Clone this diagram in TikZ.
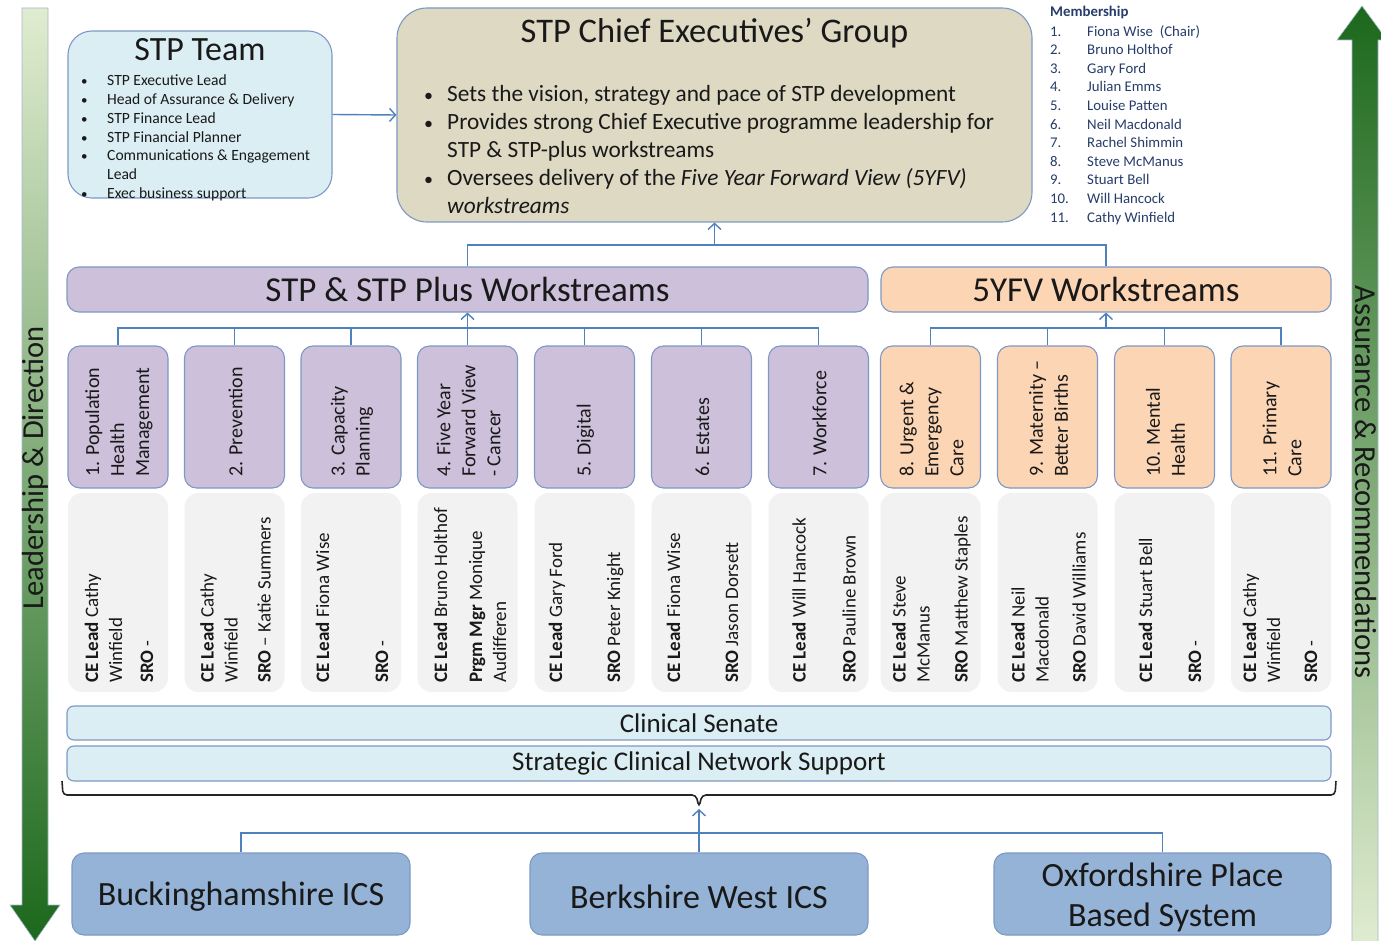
\documentclass[tikz,border=0pt]{standalone}
\usepackage{fontspec}
\setmainfont{Carlito}
\usetikzlibrary{arrows.meta,calc}
\definecolor{bordc}{RGB}{126,152,196}
\definecolor{connc}{RGB}{79,129,189}
\definecolor{teamc}{RGB}{219,238,244}
\definecolor{cegc}{RGB}{221,217,195}
\definecolor{purc}{RGB}{204,192,218}
\definecolor{orac}{RGB}{252,213,180}
\definecolor{grayc}{RGB}{242,242,242}
\definecolor{botc}{RGB}{149,179,215}
\definecolor{txtc}{RGB}{25,25,25}
\definecolor{memc}{RGB}{38,60,105}
\definecolor{gltop}{RGB}{224,236,208}
\definecolor{gldark}{RGB}{28,104,28}
\definecolor{arrbord}{RGB}{165,185,205}
\newcommand{\fs}[2]{\fontsize{#1}{#2}\selectfont}
\begin{document}
\begin{tikzpicture}[x=1pt,y=-1pt,
  basebox/.style={draw=bordc, line width=1.1pt, inner sep=0pt, text=txtc},
  teambox/.style={basebox, fill=teamc, rounded corners=24pt},
  cegbox/.style={basebox, fill=cegc, rounded corners=30pt},
  pbox/.style={basebox, fill=purc, rounded corners=12pt},
  obox/.style={basebox, fill=orac, rounded corners=12pt},
  nbox/.style={fill=grayc, draw=none, rounded corners=14pt, inner sep=0pt},
  lbox/.style={basebox, fill=teamc, rounded corners=7pt},
  bbox/.style={basebox, fill=botc, rounded corners=12pt},
  conn/.style={draw=connc, line width=1.4pt},
  arr/.style={-{Straight Barb[length=6pt,width=13pt,line width=1.4pt]}},
  wstext/.style={rotate=90, anchor=west, align=left, inner sep=0pt, font=\fs{20}{25}, text=txtc},
  nmtext/.style={rotate=90, anchor=west, align=left, inner sep=0pt, font=\fs{19}{24}, text=txtc},
  txt/.style={anchor=base west, inner sep=0pt, text=txtc},
  memtxt/.style={anchor=base west, inner sep=0pt, text=memc, font=\fs{14.8}{18}},
  bigtxt/.style={inner sep=0pt, text=txtc, font=\fs{34}{40}, align=center},
]
\path[use as bounding box] (0,0) rectangle (1381,941);
\clip (0,0) rectangle (1381,941);

% side arrows
\shade[top color=gltop, bottom color=gldark, draw=arrbord, line width=0.6pt]
  (22,8) -- (48,8) -- (48,905) -- (60,905) -- (35,941) -- (10,905) -- (22,905) -- cycle;
\shade[top color=gldark, bottom color=gltop, draw=arrbord, line width=0.6pt]
  (1352,945) -- (1352,40) -- (1337,40) -- (1362,6) -- (1387,40) -- (1378,40) -- (1378,945) -- cycle;
\node[rotate=90, font=\fs{30.5}{36}, text=txtc, inner sep=0pt] (ld) at (35,468) {Leadership \& Direction};
\node[rotate=-90, font=\fs{30.5}{36}, text=txtc, inner sep=0pt] (ar) at (1366,482) {Assurance \& Recommendations};

% STP Team
\node[teambox, minimum width=264pt, minimum height=167pt] (team) at (200,114.5) {};
\node[anchor=base, inner sep=0pt, font=\fs{34}{40}, text=txtc] (teamt) at (200,61) {STP Team};
\foreach \k/\b/\t in {0/1/STP Executive Lead, 1/1/Head of Assurance \& Delivery, 2/1/STP Finance Lead,
  3/1/STP Financial Planner, 4/1/Communications \& Engagement, 5/0/Lead, 6/1/Exec business support}{
  \ifnum\b=1 \node[txt, font=\fs{13}{18}] (tb\k) at (81,{86+18.7*\k}) {•};\fi
  \node[txt, font=\fs{15.6}{18}] (tl\k) at (107,{86+18.7*\k}) {\t};
}

% Chief Executives group
\node[cegbox, minimum width=635pt, minimum height=214pt] (ceg) at (714.5,115) {};
\node[anchor=base, inner sep=0pt, font=\fs{34.5}{40}, text=txtc] (cegt) at (714.5,43) {STP Chief Executives’ Group};
\foreach \k/\b/\t in {0/1/{Sets the vision, strategy and pace of STP development},
  1/1/{Provides strong Chief Executive programme leadership for},
  2/0/{STP \& STP-plus workstreams},
  3/1/{Oversees delivery of the \textit{Five Year Forward View (5YFV)}},
  4/0/{\textit{workstreams}}}{
  \ifnum\b=1 \node[txt, font=\fs{18}{28}] (cb\k) at (424,{102+28*\k}) {•};\fi
  \node[txt, font=\fs{23.3}{28}] (cl\k) at (447,{102+28*\k}) {\t};
}

% Membership
\node[memtxt, font=\bfseries\fs{14.8}{18}] (memt) at (1050,17) {Membership};
\foreach \nm [count=\i] in {Fiona Wise\ \ (Chair), Bruno Holthof, Gary Ford, Julian Emms, Louise Patten,
  Neil Macdonald, Rachel Shimmin, Steve McManus, Stuart Bell, Will Hancock, Cathy Winfield}{
  \node[memtxt] (mn\i) at (1050,{17.5+18.6*\i}) {\i.};
  \node[memtxt] (mm\i) at (1087,{17.5+18.6*\i}) {\nm};
}

% workstream headers
\node[pbox, minimum width=801pt, minimum height=45pt, font=\fs{35}{40}] (stpplus) at (467.5,289.5) {STP \& STP Plus Workstreams};
\node[obox, minimum width=450pt, minimum height=45pt, font=\fs{35}{40}] (fyfv) at (1106,289.5) {5YFV Workstreams};

% workstream boxes
\foreach \i/\x in {1/118,2/234.5,3/351,4/467.5,5/584.5,6/701.5,7/818.5}{
  \node[pbox, minimum width=100pt, minimum height=142pt] (ws\i) at (\x,417) {};
  \node[nbox, minimum width=100pt, minimum height=199pt] (nb\i) at (\x,592.5) {};
}
\foreach \i/\x in {8/930.5,9/1047.5,10/1164.5,11/1281}{
  \node[obox, minimum width=100pt, minimum height=142pt] (ws\i) at (\x,417) {};
  \node[nbox, minimum width=100pt, minimum height=199pt] (nb\i) at (\x,592.5) {};
}
\node[wstext] (wt1) at (119,477) {1. Population\\Health\\Management};
\node[wstext] (wt2) at (235.5,477) {2. Prevention};
\node[wstext] (wt3) at (352,477) {3. Capacity\\Planning};
\node[wstext] (wt4) at (468.5,477) {4. Five Year\\Forward View\\- Cancer};
\node[wstext] (wt5) at (585.5,477) {5. Digital};
\node[wstext] (wt6) at (702.5,477) {6. Estates};
\node[wstext] (wt7) at (819.5,477) {7. Workforce};
\node[wstext] (wt8) at (931.5,477) {8. Urgent \&\\Emergency\\Care};
\node[wstext] (wt9) at (1048.5,477) {9. Maternity –\\Better Births};
\node[wstext] (wt10) at (1165.5,477) {10. Mental\\Health};
\node[wstext] (wt11) at (1282,477) {11. Primary\\Care};

\node[nmtext] (nt1) at (119,683) {\textbf{CE Lead} Cathy\\Winfield\\[7pt]\textbf{SRO} -};
\node[nmtext] (nt2) at (235.5,683) {\textbf{CE Lead} Cathy\\Winfield\\[9pt]\textbf{SRO} – Katie Summers};
\node[nmtext] (nt3) at (352,683) {\textbf{CE Lead} Fiona Wise\\[35pt]\textbf{SRO} -};
\node[nmtext] (nt4) at (470,683) {\textbf{CE Lead} Bruno Holthof\\[11pt]\textbf{Prgm Mgr} Monique\\Audifferen};
\node[nmtext] (nt5) at (586,683) {\textbf{CE Lead} Gary Ford\\[34pt]\textbf{SRO} Peter Knight};
\node[nmtext] (nt6) at (702.5,683) {\textbf{CE Lead} Fiona Wise\\[34pt]\textbf{SRO} Jason Dorsett};
\node[nmtext] (nt7) at (824,683) {\textbf{CE Lead} Will Hancock\\[26pt]\textbf{SRO} Pauline Brown};
\node[nmtext] (nt8) at (931.5,683) {\textbf{CE Lead} Steve\\McManus\\[14pt]\textbf{SRO} Matthew Staples};
\node[nmtext] (nt9) at (1048.5,683) {\textbf{CE Lead} Neil\\Macdonald\\[13pt]\textbf{SRO} David Williams};
\node[nmtext] (nt10) at (1170,683) {\textbf{CE Lead} Stuart Bell\\[25pt]\textbf{SRO} -};
\node[nmtext] (nt11) at (1280,683) {\textbf{CE Lead} Cathy\\Winfield\\[13pt]\textbf{SRO} -};

% clinical bars
\node[lbox, minimum width=1264pt, minimum height=34pt, font=\fs{27}{30}] (senate) at (699,723) {Clinical Senate};
\node[lbox, minimum width=1264pt, minimum height=35pt, font=\fs{27}{30}] (scn) at (699,763.5) {Strategic Clinical Network Support};

% bottom systems
\node[bbox, minimum width=338pt, minimum height=82pt] (bucks) at (241,894) {};
\node[bbox, minimum width=338pt, minimum height=82pt] (berk) at (699,894) {};
\node[bbox, minimum width=337pt, minimum height=82pt] (oxf) at (1162.5,894) {};
\node[bigtxt] (buckst) at (241,897) {Buckinghamshire ICS};
\node[bigtxt] (berkt) at (699,897) {Berkshire West ICS};
\node[bigtxt] (oxft) at (1162.5,897) {Oxfordshire Place\\Based System};

% connectors
\draw[conn, arr] (team.east) -- (ceg.west);
\coordinate (jtop) at (714.5,245);
\draw[conn] (stpplus.north) |- (jtop) -| (fyfv.north);
\draw[conn, arr] (jtop) -- (ceg.south);
\coordinate (jstp) at (467.5,328);
\foreach \i in {1,...,7}{ \draw[conn] (ws\i.north) |- (jstp); }
\draw[conn, arr] (jstp) -- (stpplus.south);
\coordinate (jfy) at (1106,328);
\foreach \i in {8,...,11}{ \draw[conn] (ws\i.north) |- (jfy); }
\draw[conn, arr] (jfy) -- (fyfv.south);

% bracket under the clinical bars
\draw[draw=black!85, line width=1.6pt, rounded corners=4pt]
  (62,781) -- (63,795) -- (696,795) -- (699,807) -- (702,795) -- (1335,795) -- (1336,781);
\coordinate (jbot) at (699,833);
\coordinate (btip) at (699,809);
\draw[conn] (bucks.north) |- (jbot) -| (oxf.north);
\draw[conn] (berk.north) -- (jbot);
\draw[conn, arr] (jbot) -- (btip);
\end{tikzpicture}
\end{document}
